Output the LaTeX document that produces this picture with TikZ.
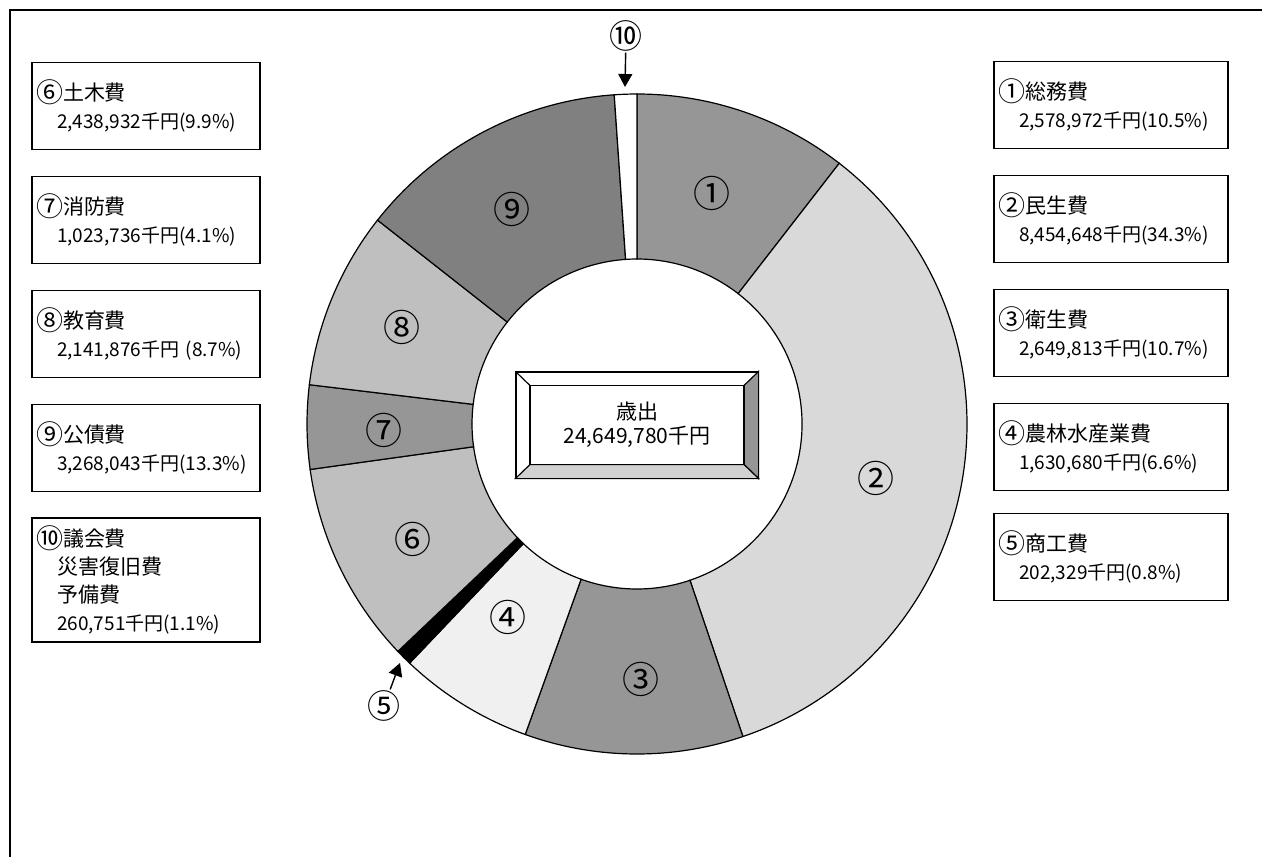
\documentclass[tikz,border=0pt]{standalone}
\usepackage{fontspec}
\newfontfamily\jp{Noto Sans CJK JP}
\usetikzlibrary{arrows.meta,positioning}
\definecolor{segmid}{gray}{0.59}
\definecolor{seglight}{gray}{0.85}
\definecolor{segpale}{gray}{0.94}
\definecolor{segsoft}{gray}{0.75}
\definecolor{segdark}{gray}{0.50}
\definecolor{bevdark}{gray}{0.59}
\definecolor{bevlight}{gray}{0.82}
\newcommand\ind{\hspace*{21pt}}
\newcommand\hd[2]{\raisebox{-1.5pt}{\fontsize{27}{27}\selectfont#1}{\fontsize{21}{28}\selectfont#2}}
\newcommand\hl[1]{{\fontsize{21}{28}\selectfont#1}}

\begin{document}
\begin{tikzpicture}[x=1pt,y=-1pt]
  \tikzset{
    node distance=114pt,
    every node/.style={font=\jp},
    itembox/.style={draw,line width=1.4pt,text width=#1,inner xsep=4pt,minimum height=87pt,
      align=left,font=\jp\fontsize{19}{28}\selectfont},
    seg/.style={draw=black,line width=1.2pt},
    num/.style={inner sep=0pt,font=\jp\fontsize{37}{37}\selectfont},
    callout/.style={inner sep=1pt,font=\jp\fontsize{33}{33}\selectfont},
    pointer/.style={line width=1.4pt,-{Triangle[length=13pt,width=14pt]}}
  }
  \useasboundingbox (0,0) rectangle (1262,857);
  \draw[line width=1.4pt] (10,857) -- (10,10) -- (1262,10);

  \coordinate (c) at (637,424);
  \foreach \a/\b/\col in {0/10.5/segmid, 10.5/44.8/seglight, 44.8/55.5/segmid,
      55.5/62.1/segpale, 62.1/62.9/black, 62.9/72.8/segsoft, 72.8/76.9/segmid,
      76.9/85.6/segsoft, 85.6/98.9/segdark, 98.9/100/white}
    \filldraw[seg,fill=\col] ([shift={(c)}]{3.6*\a-90}:330)
      arc[start angle={3.6*\a-90},end angle={3.6*\b-90},radius=330]
      -- ([shift={(c)}]{3.6*\b-90}:165)
      arc[start angle={3.6*\b-90},end angle={3.6*\a-90},radius=165] -- cycle;

  \node[num] (s1) at (712,193) {①};
  \node[num] (s2) at (876,478) {②};
  \node[num] (s3) at (641,679) {③};
  \node[num] (s4) at (508,617) {④};
  \node[num] (s6) at (413,539) {⑥};
  \node[num] (s7) at (384,430) {⑦};
  \node[num] (s8) at (402,327) {⑧};
  \node[num] (s9) at (512,209) {⑨};

  \node[callout] (n10) at (626,36) {⑩};
  \coordinate (p10) at (625,87);
  \draw[pointer] (n10) -- (p10);
  \node[callout] (n5) at (384,706) {⑤};
  \coordinate (p5) at (400,663);
  \draw[pointer] (n5) -- (p5);

  \node[draw,line width=1.2pt,minimum width=242pt,minimum height=106pt,inner sep=0pt] (frame) at (637,425) {};
  \filldraw[fill=bevdark,line width=1.2pt] (frame.north east) -- (frame.south east) -- (637+107,425+39.5) -- (637+107,425-39.5) -- cycle;
  \filldraw[fill=bevlight,line width=1.2pt] (frame.south west) -- (frame.south east) -- (637+107,425+39.5) -- (637-107,425+39.5) -- cycle;
  \draw[line width=1.2pt] (frame.north west) -- (637-107,425-39.5);
  \node[draw,fill=white,line width=1.2pt,minimum width=214pt,minimum height=79pt,align=center,
    font=\jp\fontsize{21}{24}\selectfont] (total) at (637,425) {歳出\\24,649,780千円};

  \node[itembox=220pt] (b6) at (146,106) {\hd{⑥}{土木費}\\\ind 2,438,932千円(9.9\%)};
  \node[itembox=220pt,below of=b6] (b7) {\hd{⑦}{消防費}\\\ind 1,023,736千円(4.1\%)};
  \node[itembox=220pt,below of=b7] (b8) {\hd{⑧}{教育費}\\\ind 2,141,876千円 (8.7\%)};
  \node[itembox=220pt,below of=b8] (b9) {\hd{⑨}{公債費}\\\ind 3,268,043千円(13.3\%)};
  \node[itembox=220pt,below of=b9,node distance=132pt,minimum height=124pt] (b10)
    {\hd{⑩}{議会費}\\\ind\hl{災害復旧費}\\\ind\hl{予備費}\\\ind 260,751千円(1.1\%)};

  \node[itembox=226pt] (b1) at (1111,105) {\hd{①}{総務費}\\\ind 2,578,972千円(10.5\%)};
  \node[itembox=226pt,below of=b1] (b2) {\hd{②}{民生費}\\\ind 8,454,648千円(34.3\%)};
  \node[itembox=226pt,below of=b2] (b3) {\hd{③}{衛生費}\\\ind 2,649,813千円(10.7\%)};
  \node[itembox=226pt,below of=b3] (b4) {\hd{④}{農林水産業費}\\\ind 1,630,680千円(6.6\%)};
  \node[itembox=226pt,below of=b4,node distance=110pt] (b5) {\hd{⑤}{商工費}\\\ind 202,329千円(0.8\%)};
\end{tikzpicture}
\end{document}
